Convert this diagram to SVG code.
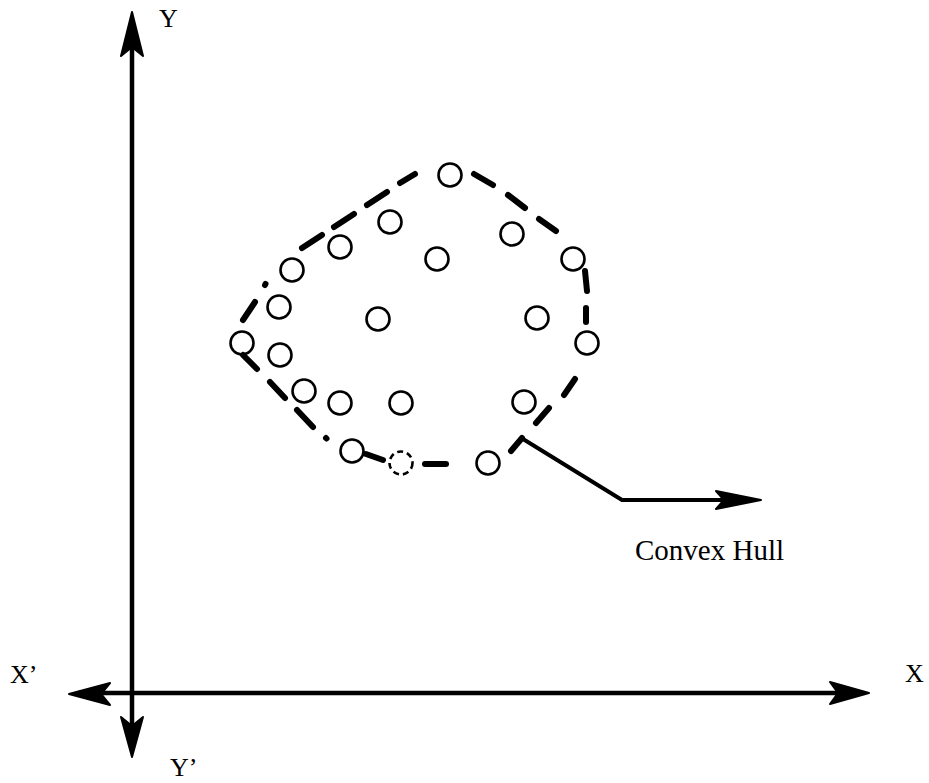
<svg xmlns="http://www.w3.org/2000/svg" width="929" height="783" viewBox="0 0 929 783">
<style>
.pt{fill:none;stroke:#000;stroke-width:2.6}
.ptd{fill:none;stroke:#000;stroke-width:2.6;stroke-dasharray:6 4}
.hull{stroke:#000;stroke-width:6;stroke-linecap:round;fill:none}
.axis{stroke:#000;stroke-width:4.5;fill:none}
.head{fill:#000;stroke:#000;stroke-width:2;stroke-linejoin:round}
.ptr{stroke:#000;stroke-width:4;fill:none;stroke-linejoin:miter}
.lbl{font-family:"Liberation Serif","Times New Roman",serif;font-size:26px;fill:#000}
.cap{font-family:"Liberation Serif","Times New Roman",serif;font-size:29px;fill:#000}
</style>
<rect width="929" height="783" fill="#fff"/>
<g id="connectors">
  <g id="axes">
    <line class="axis" x1="132" y1="22" x2="132" y2="748"/>
    <line class="axis" x1="78" y1="693" x2="860" y2="693"/>
    <path class="head" d="M132,12 L143,56 L132,47 L121,56 Z"/>
    <path class="head" d="M132,757 L143,717 L132,726 L121,717 Z"/>
    <path class="head" d="M69,694 L110,683 L101,694 L110,705 Z"/>
    <path class="head" d="M869,693 L830,682 L838,693 L830,704 Z"/>
  </g>
  <g id="hull">
    <line class="hull" x1="243" y1="320" x2="255" y2="302"/>
    <line class="hull" x1="265" y1="285" x2="265.5" y2="284"/>
    <line class="hull" x1="302" y1="248" x2="322" y2="235"/>
    <line class="hull" x1="334" y1="227" x2="354" y2="214"/>
    <line class="hull" x1="367" y1="205" x2="387" y2="192"/>
    <line class="hull" x1="400" y1="183" x2="415" y2="174"/>
    <line class="hull" x1="474" y1="174" x2="493" y2="185"/>
    <line class="hull" x1="508" y1="195" x2="525" y2="208"/>
    <line class="hull" x1="539" y1="219" x2="556" y2="231"/>
    <line class="hull" x1="585" y1="271" x2="587" y2="291"/>
    <line class="hull" x1="586" y1="308" x2="586" y2="322"/>
    <line class="hull" x1="575" y1="379" x2="564" y2="395"/>
    <line class="hull" x1="549" y1="408" x2="536" y2="423"/>
    <line class="hull" x1="522" y1="438" x2="511" y2="451"/>
    <line class="hull" x1="425" y1="464" x2="446" y2="464"/>
    <line class="hull" x1="366" y1="454" x2="383" y2="460"/>
    <line class="hull" x1="326" y1="438" x2="326.5" y2="438.5"/>
    <line class="hull" x1="297" y1="410" x2="313" y2="427"/>
    <line class="hull" x1="270" y1="382" x2="285" y2="398"/>
    <line class="hull" x1="243" y1="355" x2="257" y2="369"/>
  </g>
  <g id="pointer">
    <polyline class="ptr" points="523,439 622,500 752,500"/>
    <path class="head" d="M761,500 L716,491 L724,500 L716,509 Z"/>
  </g>
</g>
<g id="p1"><circle class="pt" cx="450" cy="175" r="11.5"/></g>
<g id="p2"><circle class="pt" cx="390" cy="222" r="11.5"/></g>
<g id="p3"><circle class="pt" cx="340" cy="247" r="11.5"/></g>
<g id="p4"><circle class="pt" cx="292" cy="270" r="11.5"/></g>
<g id="p5"><circle class="pt" cx="279" cy="307" r="11.5"/></g>
<g id="p6"><circle class="pt" cx="242" cy="343" r="11.5"/></g>
<g id="p7"><circle class="pt" cx="280" cy="355" r="11.5"/></g>
<g id="p8"><circle class="pt" cx="304" cy="391" r="11.5"/></g>
<g id="p9"><circle class="pt" cx="340" cy="403" r="11.5"/></g>
<g id="p10"><circle class="pt" cx="401" cy="403" r="11.5"/></g>
<g id="p11"><circle class="pt" cx="352" cy="451" r="11.5"/></g>
<g id="p12"><circle class="ptd" cx="401" cy="463" r="11.5"/></g>
<g id="p13"><circle class="pt" cx="488" cy="463" r="11.5"/></g>
<g id="p14"><circle class="pt" cx="524" cy="402" r="11.5"/></g>
<g id="p15"><circle class="pt" cx="537" cy="318" r="11.5"/></g>
<g id="p16"><circle class="pt" cx="587" cy="343" r="11.5"/></g>
<g id="p17"><circle class="pt" cx="573" cy="259" r="11.5"/></g>
<g id="p18"><circle class="pt" cx="512" cy="234" r="11.5"/></g>
<g id="p19"><circle class="pt" cx="437" cy="259" r="11.5"/></g>
<g id="p20"><circle class="pt" cx="378" cy="319" r="11.5"/></g>
<g id="labels">
  <text class="lbl" x="159" y="27">Y</text>
  <text class="lbl" x="905" y="682">X</text>
  <text class="lbl" x="10" y="683">X’</text>
  <text class="lbl" x="170" y="776">Y’</text>
  <text class="cap" x="635" y="560">Convex Hull</text>
</g>
</svg>
